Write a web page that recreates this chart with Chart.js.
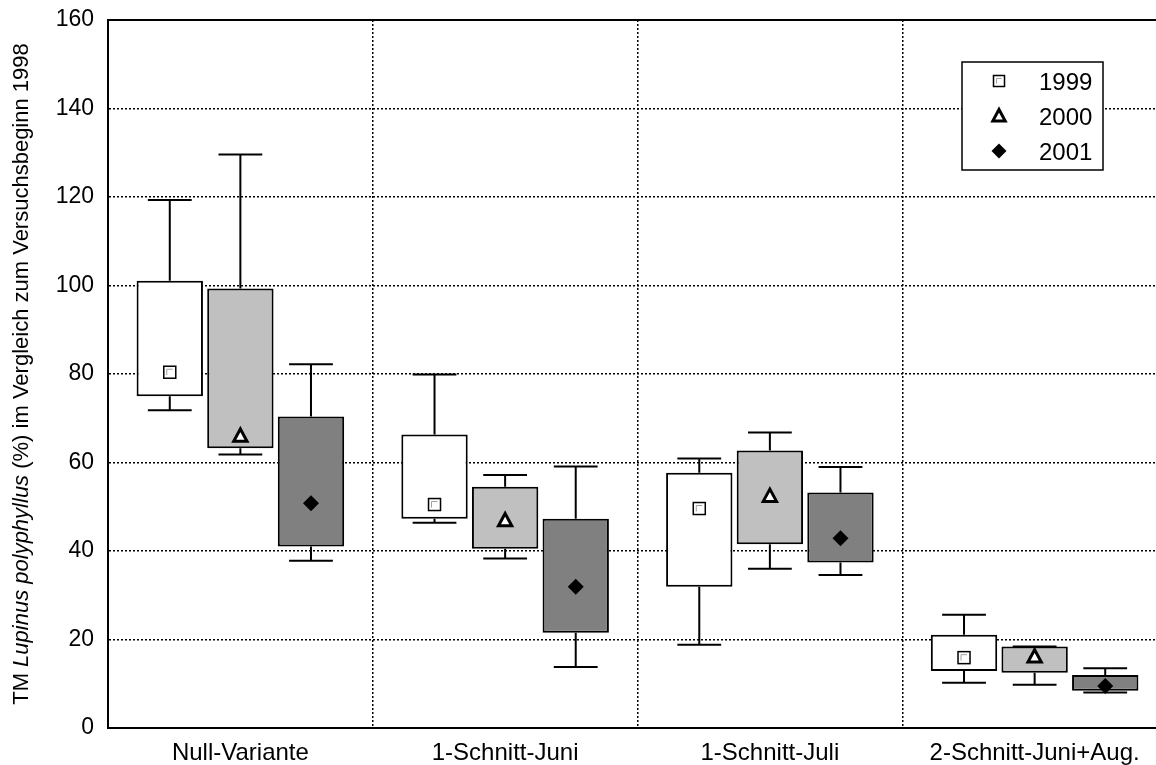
<!DOCTYPE html>
<html>
<head>
<meta charset="utf-8">
<script src="https://cdn.jsdelivr.net/npm/chart.js@4.4.0/dist/chart.umd.min.js"></script>
<style>
  html, body { margin: 0; padding: 0; overflow: hidden; background: #fff; }
  #wrap { width: 1170px; height: 765px; }
</style>
</head>
<body>
<div id="wrap"><canvas id="boxChart"></canvas></div>
<script>
// Kategorien und Jahre
const categories = ['Null-Variante', '1-Schnitt-Juni', '1-Schnitt-Juli', '2-Schnitt-Juni+Aug.'];
const years = ['1999', '2000', '2001'];
const yTicks = [0, 20, 40, 60, 80, 100, 120, 140, 160];

// 1999
const min1999  = [71.8, 46.4, 18.8, 10.2];
const q1_1999  = [75.0, 47.3, 31.9, 12.9];
const q3_1999  = [101.1, 66.3, 57.7, 21.1];
const max1999  = [119.3, 79.9, 60.9, 25.6];
const mean1999 = [80.4, 50.5, 49.6, 15.9];

// 2000
const min2000  = [61.8, 38.3, 36.0, 9.8];
const q1_2000  = [63.2, 40.5, 41.5, 12.5];
const q3_2000  = [99.3, 54.5, 62.7, 18.4];
const max2000  = [129.6, 57.2, 66.8, 18.4];
const mean2000 = [66.0, 46.9, 52.4, 16.1];

// 2001
const min2001  = [37.8, 13.8, 34.6, 8.0];
const q1_2001  = [41.0, 21.5, 37.4, 8.4];
const q3_2001  = [70.4, 47.3, 53.2, 12.0];
const max2001  = [82.2, 59.1, 59.0, 13.5];
const mean2001 = [50.8, 31.9, 42.9, 9.5];

const FONT = 'Liberation Sans, Arial, sans-serif';

const series = [
  { label: years[0], fill: '#ffffff', min: min1999, q1: q1_1999, q3: q3_1999, max: max1999, mean: mean1999 },
  { label: years[1], fill: '#c0c0c0', min: min2000, q1: q1_2000, q3: q3_2000, max: max2000, mean: mean2000 },
  { label: years[2], fill: '#808080', min: min2001, q1: q1_2001, q3: q3_2001, max: max2001, mean: mean2001 }
];

// Marker: 0 = Quadrat, 1 = Dreieck, 2 = Raute
function drawMarker(ctx, kind, x, y, r) {
  ctx.save();
  ctx.lineJoin = 'miter';
  if (kind === 0) {
    ctx.fillStyle = '#fff';
    ctx.strokeStyle = '#000';
    ctx.lineWidth = 1.5;
    ctx.fillRect(x - r, y - r, 2 * r, 2 * r);
    ctx.strokeRect(x - r, y - r, 2 * r, 2 * r);
    ctx.strokeStyle = '#a0a0a0';
    ctx.lineWidth = 1;
    ctx.beginPath();
    ctx.moveTo(x - r + 3, y + r - 3);
    ctx.lineTo(x - r + 3, y - r + 3);
    ctx.lineTo(x + r - 3, y - r + 3);
    ctx.stroke();
  } else if (kind === 1) {
    ctx.fillStyle = '#fff';
    ctx.strokeStyle = '#000';
    ctx.lineWidth = 3;
    ctx.beginPath();
    ctx.moveTo(x, y - r);
    ctx.lineTo(x + r * 0.95, y + r * 0.75);
    ctx.lineTo(x - r * 0.95, y + r * 0.75);
    ctx.closePath();
    ctx.fill();
    ctx.stroke();
  } else {
    ctx.fillStyle = '#000';
    ctx.beginPath();
    ctx.moveTo(x, y - r);
    ctx.lineTo(x + r, y);
    ctx.lineTo(x, y + r);
    ctx.lineTo(x - r, y);
    ctx.closePath();
    ctx.fill();
  }
  ctx.restore();
}

const boxPlotExtras = {
  id: 'boxPlotExtras',
  beforeDatasetsDraw(chart) {
    // Whisker
    const { ctx, scales: { y } } = chart;
    ctx.save();
    ctx.strokeStyle = '#000';
    ctx.lineWidth = 2;
    series.forEach((s, di) => {
      chart.getDatasetMeta(di).data.forEach((bar, i) => {
        const x = bar.x;
        const cap = bar.width * 0.33;
        const yMin = y.getPixelForValue(s.min[i]);
        const yMax = y.getPixelForValue(s.max[i]);
        const yQ1 = y.getPixelForValue(s.q1[i]);
        const yQ3 = y.getPixelForValue(s.q3[i]);
        ctx.beginPath();
        ctx.moveTo(x, yQ3); ctx.lineTo(x, yMax);
        ctx.moveTo(x - cap, yMax); ctx.lineTo(x + cap, yMax);
        ctx.moveTo(x, yQ1); ctx.lineTo(x, yMin);
        ctx.moveTo(x - cap, yMin); ctx.lineTo(x + cap, yMin);
        ctx.stroke();
      });
    });
    ctx.restore();
  },
  afterDatasetsDraw(chart) {
    const { ctx, chartArea, scales: { y } } = chart;

    // Mittelwerte
    series.forEach((s, di) => {
      chart.getDatasetMeta(di).data.forEach((bar, i) => {
        const r = di === 0 ? 6 : (di === 1 ? 7 : 8);
        drawMarker(ctx, di, bar.x, y.getPixelForValue(s.mean[i]), r);
      });
    });

    // obere Rahmenlinie
    ctx.save();
    ctx.strokeStyle = '#000';
    ctx.lineWidth = 2;
    ctx.beginPath();
    ctx.moveTo(chartArea.left, chartArea.top);
    ctx.lineTo(chartArea.right, chartArea.top);
    ctx.stroke();
    ctx.restore();

    // Legende
    const lw = 141, lh = 108;
    const lx = chartArea.right - 64 - lw;
    const ly = chartArea.top + 42;
    ctx.save();
    ctx.fillStyle = '#fff';
    ctx.fillRect(lx, ly, lw, lh);
    ctx.strokeStyle = '#000';
    ctx.lineWidth = 1.5;
    ctx.strokeRect(lx, ly, lw, lh);
    ctx.font = '24px ' + FONT;
    ctx.fillStyle = '#000';
    ctx.textBaseline = 'middle';
    ctx.textAlign = 'left';
    series.forEach((s, di) => {
      const rowY = ly + 19 + di * 35;
      drawMarker(ctx, di, lx + 37, rowY, di === 0 ? 5.5 : (di === 1 ? 6.5 : 7.5));
      ctx.fillText(s.label, lx + 77, rowY + 2);
    });
    ctx.restore();

    // Y-Achsentitel mit kursivem Artnamen
    const parts = [
      { t: 'TM ', f: '22px ' + FONT },
      { t: 'Lupinus polyphyllus', f: 'italic 22px ' + FONT },
      { t: ' (%) im Vergleich zum Versuchsbeginn 1998', f: '22px ' + FONT }
    ];
    ctx.save();
    let total = 0;
    parts.forEach(p => { ctx.font = p.f; p.w = ctx.measureText(p.t).width; total += p.w; });
    ctx.translate(22, (chartArea.top + chartArea.bottom) / 2);
    ctx.rotate(-Math.PI / 2);
    ctx.fillStyle = '#000';
    ctx.textBaseline = 'middle';
    ctx.textAlign = 'left';
    let cx = -total / 2;
    parts.forEach(p => { ctx.font = p.f; ctx.fillText(p.t, cx, 0); cx += p.w; });
    ctx.restore();
  }
};

new Chart(document.getElementById('boxChart'), {
  type: 'bar',
  data: {
    labels: categories,
    datasets: series.map(s => ({
      label: s.label,
      data: categories.map((_, i) => [s.q1[i], s.q3[i]]),
      backgroundColor: s.fill,
      borderColor: '#000',
      borderWidth: 2,
      borderSkipped: false,
      categoryPercentage: 0.8,
      barPercentage: 0.94
    }))
  },
  options: {
    responsive: true,
    maintainAspectRatio: false,
    animation: false,
    layout: { padding: { left: 0, right: 3, top: 20, bottom: 0 } },
    plugins: {
      legend: { display: false },
      tooltip: { enabled: false }
    },
    scales: {
      x: {
        grid: { color: '#000', lineWidth: 1.5, drawTicks: false, offset: true },
        border: { color: '#000', width: 2, dash: [2, 2] },
        ticks: { color: '#000', font: { family: FONT, size: 24 }, padding: 11, maxRotation: 0, autoSkip: false },
        afterFit: s => { s.height = 37; }
      },
      y: {
        min: 0,
        max: 160,
        afterBuildTicks: s => { s.ticks = yTicks.map(v => ({ value: v })); },
        grid: { color: '#000', lineWidth: 1.5, drawTicks: false },
        border: { color: '#000', width: 2, dash: [2, 2] },
        ticks: { color: '#000', font: { family: FONT, size: 23 }, padding: 14 },
        afterFit: s => { s.width = 108; s.paddingTop = 0; s.paddingBottom = 0; }
      }
    }
  },
  plugins: [boxPlotExtras]
});
</script>
</body>
</html>
